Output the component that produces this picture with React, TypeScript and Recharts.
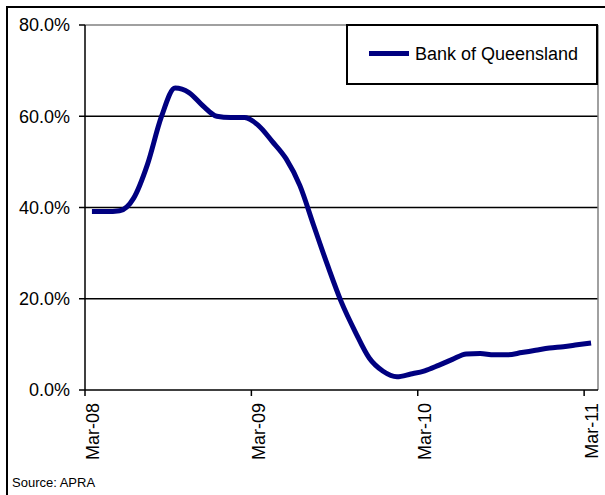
import React from 'react';
import { LineChart, Line, XAxis, YAxis, ReferenceLine } from 'recharts';

const monthLabels = [
  'Mar-08','Apr-08','May-08','Jun-08','Jul-08','Aug-08','Sep-08','Oct-08','Nov-08','Dec-08','Jan-09','Feb-09',
  'Mar-09','Apr-09','May-09','Jun-09','Jul-09','Aug-09','Sep-09','Oct-09','Nov-09','Dec-09','Jan-10','Feb-10',
  'Mar-10','Apr-10','May-10','Jun-10','Jul-10','Aug-10','Sep-10','Oct-10','Nov-10','Dec-10','Jan-11','Feb-11',
  'Mar-11'
];

const bankOfQueensland = [
  39.1, 39.1, 39.3, 42.0, 49.4, 59.8, 66.2, 65.2, 62.3, 60.0, 59.7, 59.7,
  58.0, 54.5, 50.7, 44.8, 36.0, 27.3, 19.2, 12.7, 7.0, 4.1, 2.9, 3.5,
  4.2, 5.4, 6.7, 7.9, 8.0, 7.7, 7.7, 8.2, 8.7, 9.2, 9.5, 9.9,
  10.3
];

const yTicks = [0, 20, 40, 60, 80];
const gridValues = [20, 40, 60];
const xTickIndices = [0, 12, 24, 36];
const seriesName = 'Bank of Queensland';
const sourceText = 'Source: APRA';

const data = bankOfQueensland.map((v, i) => ({ x: i + 0.5, label: monthLabels[i], value: v }));

const FONT = '"Liberation Sans", Arial, sans-serif';

const XTick = (props: any) => {
  const { x, y, payload } = props;
  const label = monthLabels[payload.value] ?? '';
  return (
    <text
      x={x + 13.5}
      y={y + 5}
      transform={`rotate(-90, ${x + 13.5}, ${y + 5})`}
      textAnchor="end"
      fontSize={18}
      fontFamily={FONT}
      fill="#000"
    >
      {label}
    </text>
  );
};

export default function App() {
  return (
    <div style={{ position: 'absolute', left: 0, top: 0, width: 605, height: 495, background: '#fff' }}>
      <div
        style={{
          position: 'absolute',
          left: 6,
          top: 6,
          width: 599,
          height: 489,
          borderTop: '2px solid #000',
          borderLeft: '2px solid #000',
          boxSizing: 'border-box',
        }}
      />
      <LineChart
        width={605}
        height={495}
        data={data}
        margin={{ top: 25, right: 7, left: 0, bottom: 30 }}
        style={{ position: 'absolute', left: 0, top: 0 }}
      >
        {gridValues.map((g) => (
          <ReferenceLine key={g} y={g} stroke="#000" strokeWidth={1.5} />
        ))}
        <ReferenceLine y={80} stroke="#808080" strokeWidth={1.5} />
        <ReferenceLine x={37} stroke="#808080" strokeWidth={1.5} />
        <XAxis
          type="number"
          dataKey="x"
          domain={[0, 37]}
          ticks={xTickIndices}
          interval={0}
          height={75}
          tickSize={6}
          axisLine={{ stroke: '#000', strokeWidth: 1.5 }}
          tickLine={{ stroke: '#000', strokeWidth: 1.5 }}
          tick={<XTick />}
          allowDataOverflow
        />
        <YAxis
          type="number"
          domain={[0, 80]}
          ticks={yTicks}
          width={85}
          tickSize={6}
          tickMargin={9}
          interval={0}
          axisLine={{ stroke: '#000', strokeWidth: 1.5 }}
          tickLine={{ stroke: '#000', strokeWidth: 1.5 }}
          tick={{ fill: '#000', fontSize: 18, fontFamily: FONT }}
          tickFormatter={(v: number) => `${v.toFixed(1)}%`}
        />
        <Line
          type="monotone"
          dataKey="value"
          name={seriesName}
          stroke="#000080"
          strokeWidth={5}
          dot={false}
          activeDot={false}
          isAnimationActive={false}
        />
      </LineChart>
      <div
        style={{
          boxSizing: 'border-box',
          position: 'absolute',
          left: 346,
          top: 24,
          width: 252,
          height: 61,
          border: '2px solid #000',
          background: '#fff',
          fontFamily: FONT,
          fontSize: 18,
        }}
      >
        <div style={{ position: 'absolute', left: 21, top: 25, width: 40, height: 5, background: '#000080' }} />
        <div style={{ position: 'absolute', left: 67, top: 18, lineHeight: '21px', whiteSpace: 'nowrap', color: '#000' }}>
          {seriesName}
        </div>
      </div>
      <div
        style={{
          position: 'absolute',
          left: 12,
          top: 474,
          fontFamily: FONT,
          fontSize: 13,
          lineHeight: '18px',
          color: '#000',
          whiteSpace: 'nowrap',
        }}
      >
        {sourceText}
      </div>
    </div>
  );
}
